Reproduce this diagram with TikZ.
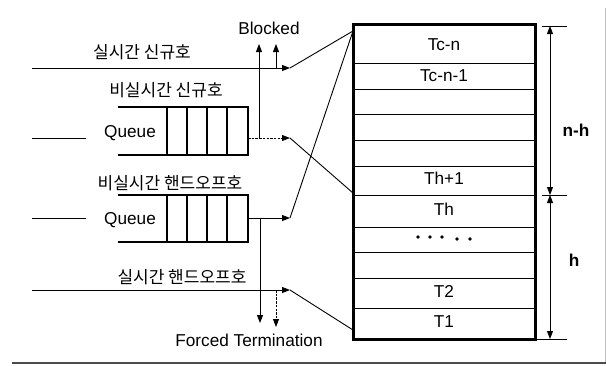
\documentclass[tikz,border=0pt]{standalone}
\usepackage{fontspec}
\setmainfont{Liberation Sans}
\newfontfamily\kr{Noto Sans CJK KR}
\usetikzlibrary{arrows.meta}

\begin{document}
\begin{tikzpicture}[x=1pt,y=-1pt,
  lbl/.style={font=\fontsize{17.2}{19}\selectfont, inner sep=0pt},
  bold/.style={font=\fontsize{17.2}{19}\selectfont\bfseries, inner sep=0pt},
  krlbl/.style={font=\kr\fontsize{17}{19}\selectfont, inner sep=0pt},
  conn/.style={line width=0.9pt},
  tip/.style={-{Triangle[length=8pt,width=6pt]}},
  dtip/.style={{Triangle[length=8pt,width=6pt]}-{Triangle[length=8pt,width=6pt]}},
  dsh/.style={dash pattern=on 2.5pt off 1.2pt},
  qline/.style={line width=2.2pt, line join=miter},
  cell/.style={line width=1.2pt},
  slot/.style={line width=0.8pt},
  frame/.style={line width=3pt, line join=miter},
]
\useasboundingbox (0,0) rectangle (606,365);

% ---- channel stack ----
\foreach \y in {63,89,114,140,166,195,227,252,278,308}
  \draw[slot] (353,\y) -- (535,\y);
\draw[frame] (353,24) rectangle (535,339);
\node[lbl] (tcn)  at (444,45)  {Tc-n};
\node[lbl] (tcn1) at (444,76)  {Tc-n-1};
\node[lbl] (thp1) at (444,178) {Th+1};
\node[lbl] (th)   at (444,209) {Th};
\node[lbl] (t2)   at (444,291) {T2};
\node[lbl] (t1)   at (444,322) {T1};
\foreach \x/\y in {418/237,430/237,442/237,457/239,470/239}
  \fill (\x,\y) circle (1.8pt);

\coordinate (top)  at (353,31);
\coordinate (mid)  at (353,193);
\coordinate (bot)  at (353,330);

% ---- dimension marks ----
\coordinate (dTop) at (550,26);
\coordinate (dMid) at (550,195);
\coordinate (dBot) at (550,339);
\draw[conn] (542,26) -- (567,26);
\draw[conn] (542,195) -- (567,195);
\draw[conn] (535,339) -- (567,339);
\draw[conn,dtip] (dTop) -- (dMid);
\draw[conn,dtip] (dMid) -- (dBot);
\node[bold] (nh) at (576,130) {n-h};
\node[bold] (h)  at (574,260) {h};

% ---- queues ----
\foreach \t/\b in {107/155,195/242} {
  \draw[qline] (118,\t) -- (248,\t) -- (248,\b) -- (118,\b);
  \foreach \x in {167,187,207,227} \draw[cell] (\x,\t) -- (\x,\b);
}
\node[lbl] (q1) at (130,133) {Queue};
\node[lbl] (q2) at (130,220) {Queue};

% ---- call class labels ----
\node[krlbl] (rtNew)  at (142,52)  {실시간 신규호};
\node[krlbl] (nrtNew) at (166,90)  {비실시간 신규호};
\node[krlbl] (nrtHo)  at (170,183) {비실시간 핸드오프호};
\node[krlbl] (rtHo)   at (182,277) {실시간 핸드오프호};
\node[lbl]   (blk)    at (269,28)  {Blocked};
\node[lbl]   (ft)     at (249,340) {Forced Termination};

% ---- incoming streams ----
\coordinate (aIn)  at (32,68);   \coordinate (aTip) at (290,68);
\coordinate (bIn)  at (32,138);  \coordinate (bEnd) at (86,138);
\coordinate (bOut) at (248,138); \coordinate (bTip) at (290,138);
\coordinate (cIn)  at (32,218);  \coordinate (cEnd) at (86,218);
\coordinate (cOut) at (248,218); \coordinate (cTip) at (290,218);
\coordinate (dIn)  at (32,290);  \coordinate (dTip) at (290,290);

\draw[conn,tip] (aIn) -- (aTip);
\draw[conn] (bIn) -- (bEnd);
\draw[conn,dsh,tip] (bOut) -- (bTip);
\draw[conn] (cIn) -- (cEnd);
\draw[conn,tip] (cOut) -- (cTip);
\draw[conn,tip] (dIn) -- (dTip);

% ---- routing into the stack ----
\draw[conn] (aTip) -- (top);
\draw[conn] (cTip) -- (top);
\draw[conn] (bTip) -- (mid);
\draw[conn] (dTip) -- (bot);

% ---- blocked / forced termination branches ----
\coordinate (blk1a) at (259,138); \coordinate (blk1b) at (259,44);
\coordinate (blk2a) at (276,68);  \coordinate (blk2b) at (276,44);
\coordinate (ft1a)  at (260,218); \coordinate (ft1b)  at (260,323);
\coordinate (ft2a)  at (276,290); \coordinate (ft2b)  at (276,327);
\draw[conn,tip] (blk1a) -- (blk1b);
\draw[conn,tip] (blk2a) -- (blk2b);
\draw[conn,tip] (ft1a) -- (ft1b);
\draw[conn,dsh,tip] (ft2a) -- (ft2b);

% ---- page rules ----
\draw[black!25, line width=0.8pt] (605,8) -- (605,363);
\draw[black!70, line width=1.4pt] (12,363) -- (606,363);
\end{tikzpicture}
\end{document}
